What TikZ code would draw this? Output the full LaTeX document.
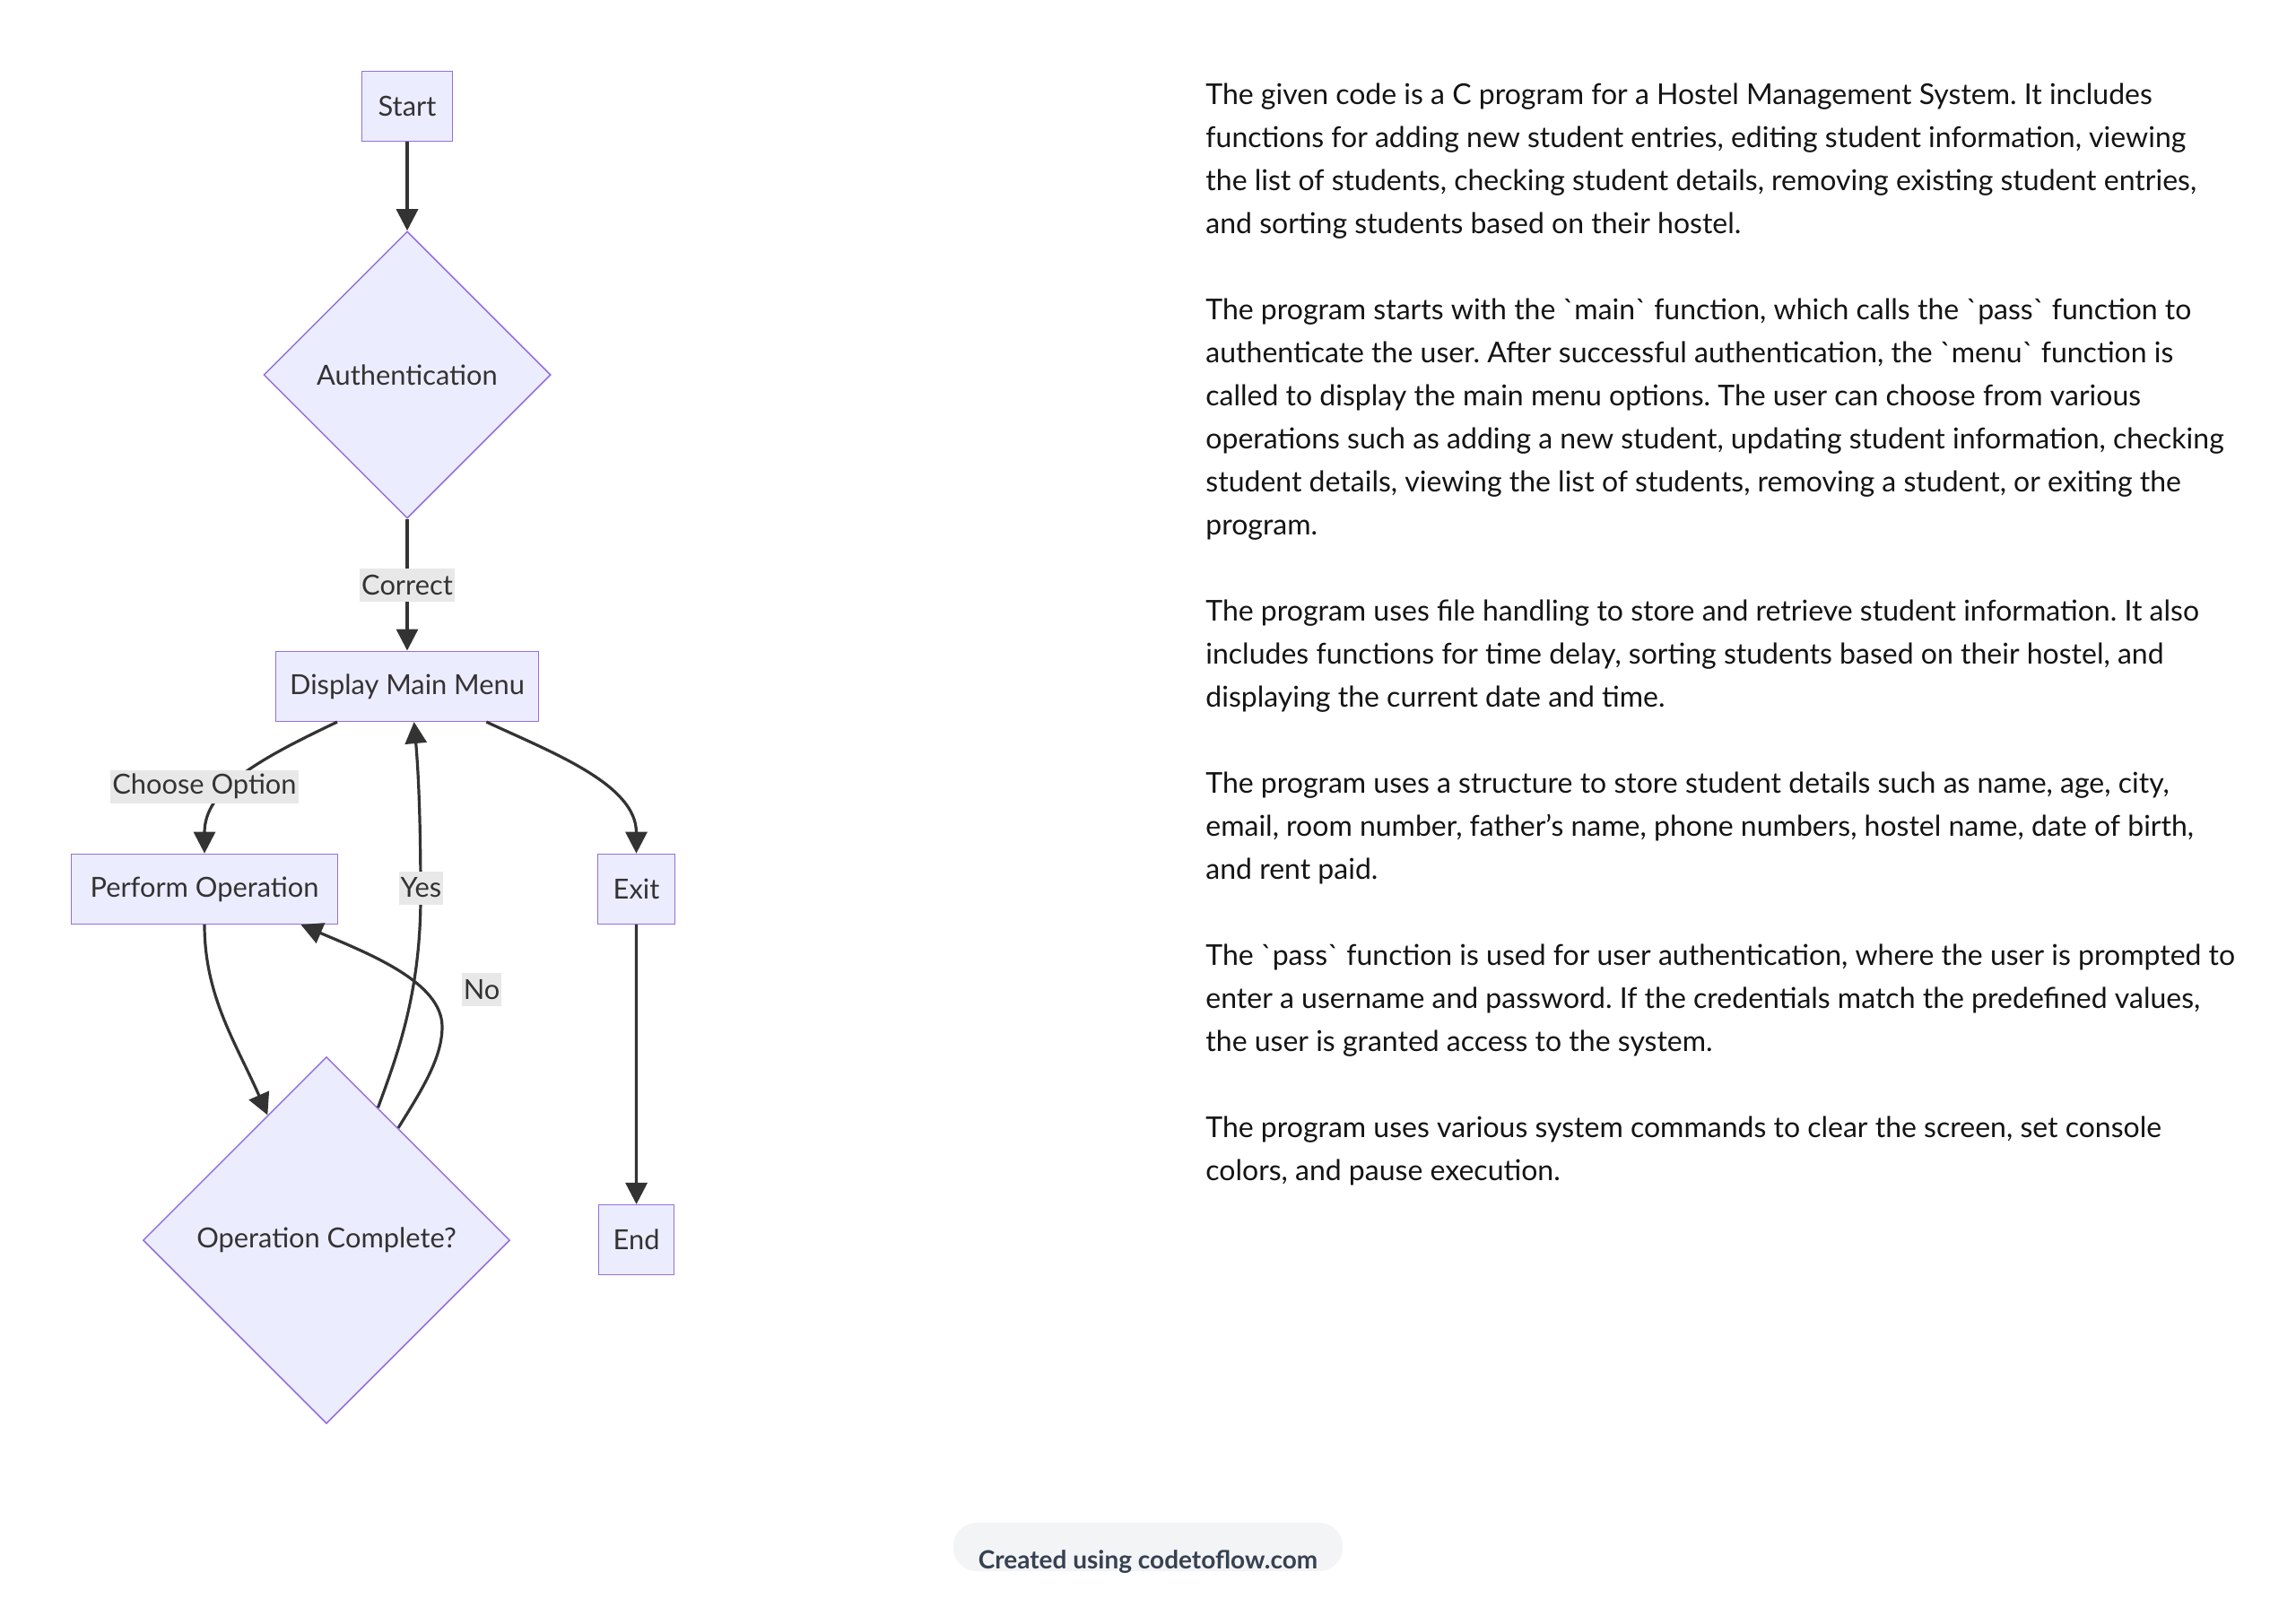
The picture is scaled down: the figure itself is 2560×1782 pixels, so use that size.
\documentclass[tikz,border=0pt]{standalone}
\usepackage{fontspec}
\setmainfont{Lato}
\usepackage{tikz}
\usetikzlibrary{shapes.geometric,arrows.meta,positioning,calc}
\usepackage{xcolor}
\definecolor{nodefill}{HTML}{ECECFF}
\definecolor{nodeline}{HTML}{9370DB}
\definecolor{edgeline}{HTML}{333333}
\definecolor{lblfill}{HTML}{E8E8E8}
\definecolor{pillfill}{HTML}{F3F4F6}
\definecolor{pilltext}{HTML}{374151}
\newcommand{\bq}{\textasciigrave}
\frenchspacing

\begin{document}
\begin{tikzpicture}[x=0.5pt, y=-0.5pt,
    box/.style={draw=nodeline, fill=nodefill, line width=0.75pt, text=edgeline,
        font=\fontsize{15.4}{18}\selectfont, minimum height=39pt, inner xsep=6pt},
    decision/.style={diamond, aspect=1, draw=nodeline, fill=nodefill, line width=0.75pt,
        text=edgeline, font=\fontsize{15.4}{18}\selectfont, inner sep=0pt},
    lbl/.style={fill=lblfill, text=edgeline, font=\fontsize{15.4}{18}\selectfont,
        inner xsep=1pt, inner ysep=0pt, minimum height=18.5pt},
    flow/.style={-{Triangle[length=12pt,width=12pt]}, line width=1.6pt, draw=edgeline}]

    % page
    \fill[white] (0,0) rectangle (2560,1782);
    \useasboundingbox (0,0) rectangle (2560,1782);

    % Flow chart
    \node[box, minimum width=50.5pt] (start) at (454,118.6) {Start};
    \node[decision, minimum width=160pt, minimum height=160pt] (auth) at (454,418) {Authentication};
    \node[box, minimum width=146.5pt] (menu) at (454,765.3) {Display Main Menu};
    \node[box, minimum width=148.5pt] (perform) at (228,991.4) {Perform Operation};
    \node[box, minimum width=43pt] (exit) at (709.5,991.4) {Exit};
    \node[decision, minimum width=204.5pt, minimum height=204.5pt] (check) at (364,1383) {Operation Complete?};
    \node[box, minimum width=42pt] (end) at (709.6,1382.7) {End};

    \draw[flow] (start) -- (auth);
    \draw[flow] (auth) -- node[lbl] (correct) {Correct} (menu);
    \draw[flow] ($(menu.south west)!0.235!(menu.south east)$) .. controls +(-86,41) and +(0,-72) .. (perform.north);
    \draw[flow] ($(menu.south west)!0.8!(menu.south east)$) .. controls +(73,34) and +(0,-77) .. (exit.north);
    \draw[flow] (perform.south) .. controls +(0,80) and +(-35,-80) .. ($(check.north)!0.32!(check.west)$);
    \draw[flow] ($(check.north)!0.28!(check.east)$) .. controls +(20,-55) and +(0,110) .. (469,1000)
        .. controls +(0,-100) and +(4,46) .. ($(menu.south west)!0.526!(menu.south east)$);
    \draw[flow] ($(check.north)!0.39!(check.east)$) .. controls +(26,-42) and +(0,35) .. (493,1145)
        .. controls +(0,-50) and +(75,32) .. ($(perform.south west)!0.86!(perform.south east)$);
    \draw[flow] (exit) -- (end);

    % Labels off the curves
    \node[lbl] (choose) at (228,877) {Choose Option};
    \node[lbl] (yes) at (469.4,990) {Yes};
    \node[lbl] (no) at (537,1103.5) {No};

    % Description
    \node[anchor=north west, align=left, inner sep=0pt, text=black!92,
        font=\fontsize{16}{24}\selectfont] (desc) at (1344,92.5) {%
        The given code is a C program for a Hostel Management System. It includes\\
        functions for adding new student entries, editing student information, viewing\\
        the list of students, checking student details, removing existing student entries,\\
        and sorting students based on their hostel.\\[24pt]
        The program starts with the \bq main\bq\ function, which calls the \bq pass\bq\ function to\\
        authenticate the user. After successful authentication, the \bq menu\bq\ function is\\
        called to display the main menu options. The user can choose from various\\
        operations such as adding a new student, updating student information, checking\\
        student details, viewing the list of students, removing a student, or exiting the\\
        program.\\[24pt]
        The program uses file handling to store and retrieve student information. It also\\
        includes functions for time delay, sorting students based on their hostel, and\\
        displaying the current date and time.\\[24pt]
        The program uses a structure to store student details such as name, age, city,\\
        email, room number, father's name, phone numbers, hostel name, date of birth,\\
        and rent paid.\\[24pt]
        The \bq pass\bq\ function is used for user authentication, where the user is prompted to\\
        enter a username and password. If the credentials match the predefined values,\\
        the user is granted access to the system.\\[24pt]
        The program uses various system commands to clear the screen, set console\\
        colors, and pause execution.};

    % Footer
    \fill[pillfill, rounded corners=13pt] (1063,1698) rectangle (1497,1752);
    \node[anchor=base, text=pilltext, font=\bfseries\fontsize{14}{16}\selectfont] (credit) at (1280,1749) {Created using codetoflow.com};
\end{tikzpicture}
\end{document}
